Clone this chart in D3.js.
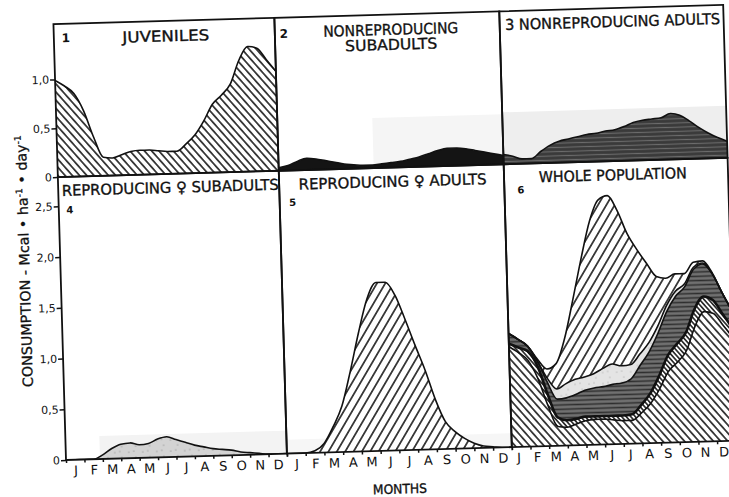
<!DOCTYPE html>
<html>
<head>
<meta charset="utf-8">
<script src="https://cdn.jsdelivr.net/npm/d3@7"></script>
<style>
  html, body { margin: 0; padding: 0; background: #fff; }
  svg { display: block; }
  text { font-family: "DejaVu Sans", sans-serif; fill: #111; }
</style>
</head>
<body>
<svg id="chart" width="729" height="497"></svg>
<script>
// Month grid (fraction of the year, in months) and month initials
const monthLetters = ["J", "F", "M", "A", "M", "J", "J", "A", "S", "O", "N", "D"];
const monthCenters = [0.5, 1.5, 2.5, 3.5, 4.5, 5.5, 6.5, 7.5, 8.5, 9.5, 10.5, 11.5];
const monthEdges = [0, 1, 2, 3, 4, 5, 6, 7, 8, 9, 10, 11, 12];
const monthT = [0, 0.5, 1, 1.5, 2, 2.5, 3, 3.5, 4, 4.5, 5, 5.5, 6,
                6.5, 7, 7.5, 8, 8.5, 9, 9.5, 10, 10.5, 11, 11.5, 12];

// Consumption, Mcal · ha-1 · day-1, by population group
const juveniles = [0.99, 0.93, 0.85, 0.67, 0.40, 0.19, 0.18, 0.21, 0.24, 0.25, 0.25, 0.24, 0.23,
                   0.23, 0.30, 0.39, 0.53, 0.70, 0.79, 0.90, 1.14, 1.28, 1.26, 1.14, 1.02];
const nonReproSubadults = [0.03, 0.05, 0.09, 0.12, 0.11, 0.09, 0.07, 0.05, 0.04, 0.03, 0.03, 0.04, 0.05,
                           0.06, 0.08, 0.10, 0.13, 0.16, 0.18, 0.18, 0.17, 0.15, 0.13, 0.11, 0.09];
const nonReproAdults = [0.10, 0.08, 0.05, 0.05, 0.12, 0.18, 0.22, 0.24, 0.26, 0.28, 0.29, 0.31, 0.32,
                        0.35, 0.39, 0.41, 0.42, 0.43, 0.47, 0.45, 0.39, 0.32, 0.26, 0.21, 0.17];
const reproFemaleSubadults = [0, 0, 0, 0, 0.04, 0.10, 0.14, 0.15, 0.13, 0.14, 0.18, 0.20, 0.17,
                              0.14, 0.11, 0.09, 0.07, 0.06, 0.05, 0.03, 0.02, 0.01, 0, 0, 0];
const reproFemaleAdults = [0, 0, 0, 0.02, 0.09, 0.25, 0.45, 0.79, 1.17, 1.50, 1.66, 1.66, 1.53,
                           1.29, 1.03, 0.78, 0.49, 0.27, 0.17, 0.10, 0.05, 0.02, 0.01, 0, 0];

// Axis ticks
const topTicks = [0, 0.5, 1.0];
const topTickLabels = ["0", "0,5", "1,0"];
const bottomTicks = [0, 0.5, 1.0, 1.5, 2.0, 2.5];
const bottomTickLabels = ["0", "0,5", "1,0", "1,5", "2,0", "2,5"];

// ---- layout -------------------------------------------------------------
const cols = [66, 287, 512, 736];     // panel column edges
const rowTop = 24, rowMid = 177, rowBot = 460;
const tilt = -1.65;                    // the sheet sits slightly askew

const svg = d3.select("#chart");
const defs = svg.append("defs");

// ---- fill patterns ------------------------------------------------------
function hatch(id, spacing, angle, width) {
  const p = defs.append("pattern").attr("id", id)
    .attr("patternUnits", "userSpaceOnUse")
    .attr("width", spacing).attr("height", 10)
    .attr("patternTransform", `rotate(${angle})`);
  p.append("rect").attr("width", spacing).attr("height", 10).attr("fill", "#fff");
  p.append("line").attr("x1", spacing / 2).attr("x2", spacing / 2)
    .attr("y1", -1).attr("y2", 11)
    .attr("stroke", "#111").attr("stroke-width", width);
}
hatch("hatchBack", 5.4, -40, 1.5);
hatch("hatchBackDense", 3.4, -40, 1.5);
hatch("hatchFwd", 7.2, 32, 1.5);

function stripes(id, gap, bg, stroke, width) {
  const p = defs.append("pattern").attr("id", id)
    .attr("patternUnits", "userSpaceOnUse")
    .attr("width", 20).attr("height", gap);
  p.append("rect").attr("width", 20).attr("height", gap).attr("fill", bg);
  p.append("line").attr("x1", 0).attr("x2", 20)
    .attr("y1", gap / 2).attr("y2", gap / 2)
    .attr("stroke", stroke).attr("stroke-width", width);
}
stripes("stripeDark", 4.2, "#3a3a3a", "#6c6c6c", 1.1);
stripes("stripeMid", 4.3, "#707070", "#2e2e2e", 1.5);

function stipple(id, bg, dot) {
  const p = defs.append("pattern").attr("id", id)
    .attr("patternUnits", "userSpaceOnUse")
    .attr("width", 14).attr("height", 11);
  p.append("rect").attr("width", 14).attr("height", 11).attr("fill", bg);
  [[3, 3], [10, 8], [8, 2]].forEach(([cx, cy]) =>
    p.append("circle").attr("cx", cx).attr("cy", cy).attr("r", 0.6).attr("fill", dot));
}
stipple("stipple", "#d3d3d3", "#7a7a7a");
stipple("stippleLight", "#e4e4e4", "#9a9a9a");

// ---- scales ---------------------------------------------------------------
const xs = [0, 1, 2].map(i => d3.scaleLinear().domain([0, 12]).range([cols[i], cols[i + 1]]));
const yTop = d3.scaleLinear().domain([0, 1]).range([rowMid, rowMid - 97.7]);
const yBot = d3.scaleLinear().domain([0, 1]).range([rowBot, rowBot - 101.5]);

const g = svg.append("g").attr("transform", `rotate(${tilt},${cols[0]},${rowBot})`);

// panel rectangles
const panelBoxes = [
  { col: 0, y0: rowTop, y1: rowMid }, { col: 1, y0: rowTop, y1: rowMid }, { col: 2, y0: rowTop, y1: rowMid },
  { col: 0, y0: rowMid, y1: rowBot }, { col: 1, y0: rowMid, y1: rowBot }, { col: 2, y0: rowMid, y1: rowBot }
];
panelBoxes.forEach((b, i) => {
  defs.append("clipPath").attr("id", "clip" + i)
    .append("rect").attr("x", cols[b.col]).attr("y", b.y0)
    .attr("width", cols[b.col + 1] - cols[b.col]).attr("height", b.y1 - b.y0);
});

// faint grey tone of the printed sheet
const tones = [
  { x0: 382, x1: 512, y0: 127, y1: rowMid, c: "#f5f5f5" },
  { x0: 512, x1: 736, y0: 125, y1: rowMid, c: "#eeeeee" },
  { x0: 100, x1: 287, y0: 437, y1: rowBot, c: "#f3f3f3" },
  { x0: 287, x1: 512, y0: 446, y1: rowBot, c: "#f6f6f6" }
];
g.append("g").selectAll("rect").data(tones).join("rect")
  .attr("x", d => d.x0).attr("y", d => d.y0)
  .attr("width", d => d.x1 - d.x0).attr("height", d => d.y1 - d.y0)
  .attr("fill", d => d.c);

// ---- single-group panels ----------------------------------------------------
const singles = [
  { box: 0, values: juveniles, y: yTop, fill: "url(#hatchBack)" },
  { box: 1, values: nonReproSubadults, y: yTop, fill: "#141414" },
  { box: 2, values: nonReproAdults, y: yTop, fill: "url(#stripeDark)" },
  { box: 3, values: reproFemaleSubadults, y: yBot, fill: "url(#stipple)" },
  { box: 4, values: reproFemaleAdults, y: yBot, fill: "url(#hatchFwd)" }
];
singles.forEach(s => {
  const x = xs[panelBoxes[s.box].col];
  const area = d3.area()
    .x((d, i) => x(monthT[i])).y0(s.y(0)).y1(d => s.y(d))
    .curve(d3.curveMonotoneX);
  const line = d3.line()
    .x((d, i) => x(monthT[i])).y(d => s.y(d))
    .curve(d3.curveMonotoneX);
  const pg = g.append("g").attr("clip-path", `url(#clip${s.box})`);
  pg.append("path").datum(s.values).attr("d", area).attr("fill", s.fill);
  pg.append("path").datum(s.values).attr("d", line)
    .attr("fill", "none").attr("stroke", "#111").attr("stroke-width", 1.6);
});

// ---- whole population: the five groups stacked ------------------------------
const keys = ["juveniles", "nonReproSubadults", "nonReproAdults", "reproFemaleSubadults", "reproFemaleAdults"];
const rows = monthT.map((t, i) => ({
  t,
  juveniles: juveniles[i],
  nonReproSubadults: nonReproSubadults[i],
  nonReproAdults: nonReproAdults[i],
  reproFemaleSubadults: reproFemaleSubadults[i],
  reproFemaleAdults: reproFemaleAdults[i]
}));
const stacked = d3.stack().keys(keys)(rows);
const layerFill = {
  juveniles: "url(#hatchBack)",
  nonReproSubadults: "url(#hatchBackDense)",
  nonReproAdults: "url(#stripeMid)",
  reproFemaleSubadults: "url(#stippleLight)",
  reproFemaleAdults: "url(#hatchFwd)"
};
const x6 = xs[2];
const stackArea = d3.area()
  .x(d => x6(d.data.t)).y0(d => yBot(d[0])).y1(d => yBot(d[1]))
  .curve(d3.curveMonotoneX);
const stackLine = d3.line()
  .x(d => x6(d.data.t)).y(d => yBot(d[1]))
  .curve(d3.curveMonotoneX);
const p6 = g.append("g").attr("clip-path", "url(#clip5)");
p6.selectAll("path.layer").data(stacked).join("path")
  .attr("class", "layer").attr("d", stackArea).attr("fill", d => layerFill[d.key]);
p6.selectAll("path.edge").data(stacked).join("path")
  .attr("class", "edge").attr("d", stackLine).attr("fill", "none")
  .attr("stroke", "#111").attr("stroke-width", d => d.key === "nonReproSubadults" ? 2.6 : 1.6);

// ---- frames -------------------------------------------------------------------
g.append("g").selectAll("rect").data(panelBoxes).join("rect")
  .attr("x", d => cols[d.col]).attr("y", d => d.y0)
  .attr("width", d => cols[d.col + 1] - cols[d.col]).attr("height", d => d.y1 - d.y0)
  .attr("fill", "none").attr("stroke", "#111").attr("stroke-width", 1.8);

// ---- axes ---------------------------------------------------------------------
function styleAxis(sel, size) {
  sel.select(".domain").remove();
  sel.selectAll(".tick line").attr("stroke", "#111").attr("stroke-width", 1.5);
  sel.selectAll(".tick text").attr("fill", "#111")
    .style("font-family", '"DejaVu Sans", sans-serif').style("font-size", size + "px");
}
g.append("g").attr("transform", `translate(${cols[0]},0)`)
  .call(d3.axisLeft(yTop).tickValues(topTicks)
    .tickFormat((d, i) => topTickLabels[i]).tickSize(5).tickPadding(1))
  .call(s => styleAxis(s, 11));
g.append("g").attr("transform", `translate(${cols[0]},0)`)
  .call(d3.axisLeft(yBot).tickValues(bottomTicks)
    .tickFormat((d, i) => bottomTickLabels[i]).tickSize(5).tickPadding(1))
  .call(s => styleAxis(s, 11));

xs.forEach((x, k) => {
  g.append("g").attr("transform", `translate(0,${rowBot})`)
    .call(d3.axisBottom(x).tickValues(monthEdges).tickFormat(() => "").tickSize(3))
    .call(s => styleAxis(s, 12));
  g.append("g").attr("transform", `translate(0,${rowBot})`)
    .call(d3.axisBottom(x).tickValues(monthCenters)
      .tickFormat((d, i) => monthLetters[i]).tickSize(0).tickPadding(6))
    .call(s => styleAxis(s, 13))
    .call(s => s.selectAll(".tick text").attr("dx", k === 2 ? -3 : 0));
});

// ---- titles and labels ------------------------------------------------------
const titles = [
  { text: "JUVENILES", x: 178, y: 39, w: 87, fs: 15 },
  { text: "NONREPRODUCING", x: 403, y: 39, w: 135, fs: 15 },
  { text: "SUBADULTS", x: 403, y: 54, w: 92, fs: 15 },
  { text: "3 NONREPRODUCING ADULTS", x: 625, y: 37.5, w: 215, fs: 15 },
  { text: "REPRODUCING \u2640 SUBADULTS", x: 178, y: 190.5, w: 217, fs: 15 },
  { text: "REPRODUCING \u2640 ADULTS", x: 400.5, y: 191, w: 188, fs: 15 },
  { text: "WHOLE POPULATION", x: 620.7, y: 190.7, w: 148, fs: 15 },
  { text: "MONTHS", x: 399, y: 498.5, w: 54, fs: 13 }
];
g.append("g").selectAll("text").data(titles).join("text")
  .attr("x", d => d.x).attr("y", d => d.y + d.fs * 0.36)
  .attr("text-anchor", "middle")
  .attr("textLength", d => d.w).attr("lengthAdjust", "spacingAndGlyphs")
  .style("font-size", d => d.fs + "px")
  .attr("stroke", "#111").attr("stroke-width", 0.35)
  .text(d => d.text);

const numbers = [
  { text: "1", x: 78, y: 38, fs: 12 },
  { text: "2", x: 296, y: 40, fs: 12 },
  { text: "4", x: 77, y: 210, fs: 10 },
  { text: "5", x: 300, y: 209, fs: 10 },
  { text: "6", x: 528.5, y: 203, fs: 10 }
];
g.append("g").selectAll("text").data(numbers).join("text")
  .attr("x", d => d.x).attr("y", d => d.y + d.fs * 0.36)
  .attr("text-anchor", "middle")
  .style("font-size", d => d.fs + "px").style("font-weight", "bold")
  .text(d => d.text);

// vertical axis title
const yTitle = g.append("text")
  .attr("transform", "translate(35,260) rotate(-90)")
  .attr("text-anchor", "middle")
  .attr("textLength", 252).attr("lengthAdjust", "spacingAndGlyphs")
  .style("font-size", "14px")
  .attr("stroke", "#111").attr("stroke-width", 0.3);
yTitle.append("tspan").text("CONSUMPTION  -  Mcal \u2022 ha");
yTitle.append("tspan").attr("dy", -5).style("font-size", "9px").text("-1");
yTitle.append("tspan").attr("dy", 5).text(" \u2022 day");
yTitle.append("tspan").attr("dy", -5).style("font-size", "9px").text("-1");
</script>
</body>
</html>
